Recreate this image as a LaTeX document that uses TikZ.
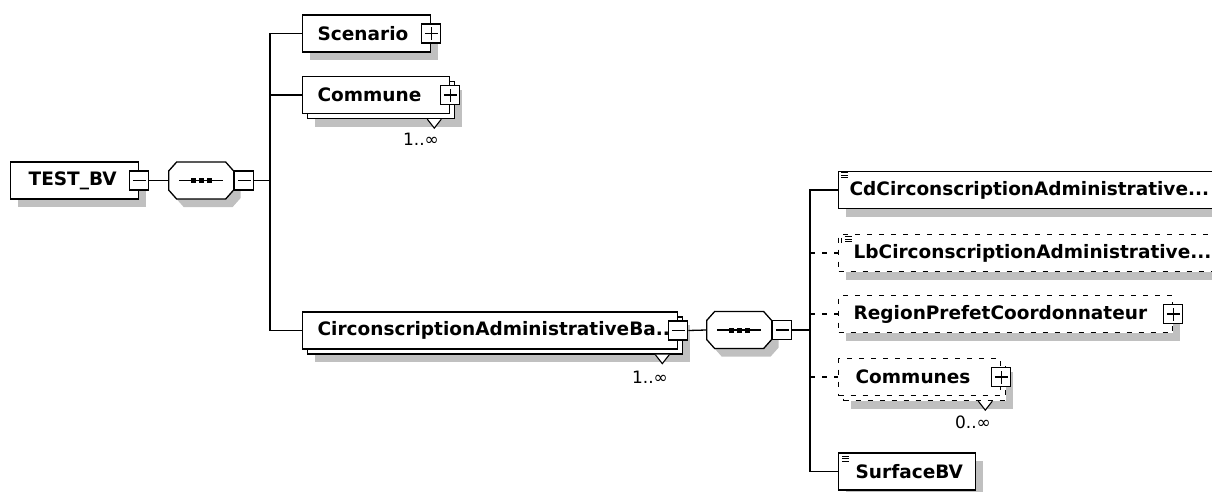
\documentclass[tikz,border=0pt]{standalone}
\usepackage{fontspec}
\setmainfont{DejaVu Sans}
\usetikzlibrary{shadows}
\definecolor{shadowgray}{RGB}{192,192,192}
\newcommand{\boxtext}[2]{\makebox[#1][l]{#2}}
% octagonal outline of a sequence compositor, centred on the origin
\newcommand{\octpath}{(-24.5,-18.5) -- (24.5,-18.5) -- (32.5,-9.5) -- (32.5,9.5) -- (24.5,18.5) -- (-24.5,18.5) -- (-32.5,9.5) -- (-32.5,-9.5) -- cycle}
% sequence compositor drawn around the named (invisible) node #1
\newcommand{\seqshape}[1]{%
  \begin{scope}[shift={(#1.center)}]
    \fill[shadowgray] [shift={(7,8)}] \octpath;
    \filldraw[fill=white] \octpath;
    \draw[line width=1.2pt] (-22,0) -- (22,0);
    \foreach \dx in {-8,0,8} \fill (\dx-2.5,-2.5) rectangle (\dx+2.5,2.5);
  \end{scope}}
% occurrence notch on the bottom edge of the back copy of node #1
\newcommand{\occnotch}[1]{%
  \filldraw[fill=white,line width=1.1pt] ([xshift=-9pt,yshift=-5pt]#1.south east) -- ([xshift=-16pt,yshift=-14pt]#1.south east) -- ([xshift=-23pt,yshift=-5pt]#1.south east);}

\begin{document}
\begin{tikzpicture}[x=1pt,y=-1pt,line width=1.3pt,
  every node/.style={font=\fontsize{18.5}{20}\selectfont\bfseries},
  sh/.style={drop shadow={shadow xshift=7pt,shadow yshift=-8pt,fill=shadowgray,opacity=1}},
  elem/.style={draw,fill=white,rectangle,minimum height=37pt,inner ysep=0pt,anchor=west},
  single/.style={elem,sh},
  multi/.style={elem,
    general shadow={fill=shadowgray,shadow xshift=12pt,shadow yshift=-13pt},
    general shadow={draw=black,fill=white,shadow xshift=5pt,shadow yshift=-5pt,#1}},
  multi/.default={},
  opt/.style={dash pattern=on 5pt off 7pt},
  pmbox/.style={draw,fill=white,minimum size=19pt,inner sep=0pt,line width=1.1pt},
  minus/.style={pmbox,path picture={
    \draw[line width=1.1pt] ([xshift=3pt]path picture bounding box.west) -- ([xshift=-3pt]path picture bounding box.east);}},
  plus/.style={pmbox,path picture={
    \draw[line width=1.1pt] ([xshift=3pt]path picture bounding box.west) -- ([xshift=-3pt]path picture bounding box.east);
    \draw[line width=1.1pt] ([yshift=3pt]path picture bounding box.south) -- ([yshift=-3pt]path picture bounding box.north);}},
  seq/.style={rectangle,minimum width=65pt,minimum height=37pt,inner sep=0pt,anchor=west},
  occ/.style={font=\fontsize{17}{19}\selectfont},
  icon/.style={line width=1pt}
]
\useasboundingbox (0,0) rectangle (1212,491);
\clip (0,0) rectangle (1212,491);

% root element and its sequence
\node[single,inner xsep=18pt] (testbv) at (10,180.5) {\boxtext{92pt}{TEST\_BV}};
\node[minus] (testbvpm) at (testbv.east) {};
\node[seq] (seqa) at (168,180.5) {};
\seqshape{seqa}
\node[minus,anchor=west] (seqapm) at (seqa.east) {};
\coordinate (busa) at (270,180.5);

% children of the first sequence
\node[single,inner xsep=15pt] (scen) at (302,33.5) {\boxtext{98pt}{Scenario}};
\node[plus] (scenpm) at (scen.east) {};
\node[multi,inner xsep=15pt] (comm) at (302,95) {\boxtext{117pt}{Commune}};
\node[plus] (commpm) at (comm.east) {};
\node[multi,inner xsep=15pt] (circ) at (302,330.5) {\boxtext{345pt}{CirconscriptionAdministrativeBa..}};
\node[minus] (circpm) at (circ.east) {};

% occurrence markers
\occnotch{comm}
\node[occ] (commocc) at (421,139) {1..∞};
\occnotch{circ}
\node[occ] (circocc) at (650,377) {1..∞};

% second sequence
\node[seq] (seqb) at (706,330) {};
\seqshape{seqb}
\node[minus,anchor=west] (seqbpm) at (seqb.east) {};
\coordinate (busb) at (810,330);

% children of the second sequence
\node[single,inner xsep=11pt] (cd) at (838,190) {\boxtext{378pt}{CdCirconscriptionAdministrative...}};
\node[single,opt,inner xsep=15pt] (lb) at (838,253) {\boxtext{370pt}{LbCirconscriptionAdministrative...}};
\node[single,opt,inner xsep=15pt] (reg) at (838,314) {\boxtext{304pt}{RegionPrefetCoordonnateur}};
\node[plus] (regpm) at (reg.east) {};
\node[multi={dash pattern=on 5pt off 7pt},opt,inner xsep=17pt] (comms) at (838,377) {\boxtext{128pt}{Communes}};
\node[plus] (commspm) at (comms.east) {};
\occnotch{comms}
\node[occ] (commsocc) at (973,422) {0..∞};
\node[single,inner xsep=17pt] (surf) at (838,471.5) {\boxtext{103pt}{SurfaceBV}};

% simple-content icons
\foreach \dy in {2,4.5,7} {
  \draw[icon] ([xshift=3pt,yshift=-\dy pt]cd.north west) -- ++(7pt,0);
  \draw[icon] ([xshift=7pt,yshift=-\dy pt-1pt]lb.north west) -- ++(7pt,0);
  \draw[icon] ([xshift=4pt,yshift=-\dy pt-2pt]surf.north west) -- ++(7pt,0);
}
\draw[icon] ([xshift=3.5pt,yshift=-4pt]lb.north west) -- ++(0,-5pt);

% connectors
\draw (testbvpm.east) -- (seqa.west);
\draw (seqapm.east) -- (busa);
\draw (busa) |- (scen.west);
\draw (busa) |- (comm.west);
\draw (busa) |- (circ.west);
\draw (circpm.east) -- (seqb.west);
\draw (seqbpm.east) -- (busb);
\draw (busb) |- (cd.west);
\draw (busb) |- (surf.west);
\draw[opt] (busb |- lb.west) -- (lb.west);
\draw[opt] (busb |- reg.west) -- (reg.west);
\draw[opt] (busb |- comms.west) -- (comms.west);
\end{tikzpicture}
\end{document}
